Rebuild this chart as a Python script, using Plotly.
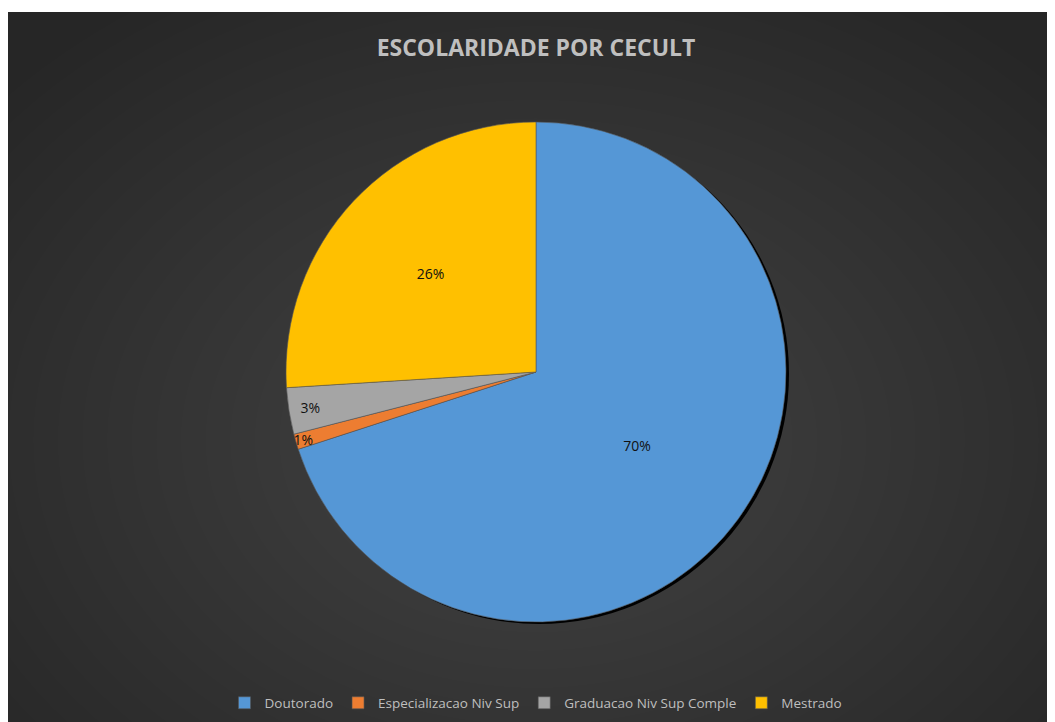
import plotly.graph_objects as go

labels = ["Doutorado", "Especializacao Niv Sup", "Graduacao Niv Sup Comple", "Mestrado"]
values = [70, 1, 3, 26]
colors = ["#5597d6", "#ed7d31", "#a5a5a5", "#ffc000"]

# the page body has an 8px margin; the figure fills the rest of the window
OFF = 8
W, H = 1055 - OFF, 722 - OFF

def px(x):
    return (x - OFF) / W

def py(y):
    return 1 - (y - OFF) / H

shapes = [
    dict(type="rect", xref="paper", yref="paper", x0=0.0, x1=1.0, y0=0.0, y1=py(12),
         fillcolor="#262626", line=dict(width=0), layer="below")
]
cx, cy = 536, 440
N = 26
for k in range(N):
    f = 1 - k / N
    rx, ry = 640 * f + 60, 480 * f + 45
    shapes.append(dict(type="circle", xref="paper", yref="paper",
                       x0=px(cx - rx), x1=px(cx + rx),
                       y0=py(cy + ry), y1=py(cy - ry),
                       fillcolor="rgba(255,255,255,0.0068)", line=dict(width=0), layer="below"))

R = 250
pcx, pcy = 536, 372
dom = dict(x=[px(pcx - R), px(pcx + R)], y=[py(pcy + R), py(pcy - R)])
shadow_dom = dict(x=[px(pcx - R + 3), px(pcx + R + 3)], y=[py(pcy + R + 2), py(pcy - R + 2)])

fig = go.Figure()
fig.add_trace(go.Pie(
    labels=["sombra"], values=[1], showlegend=False, textinfo="none", hoverinfo="skip",
    marker=dict(colors=["#000000"], line=dict(width=0)), domain=shadow_dom, sort=False
))
fig.add_trace(go.Pie(
    labels=labels, values=values, sort=False, direction="clockwise", rotation=0,
    marker=dict(colors=colors, line=dict(color="#555555", width=0.6)),
    textinfo="percent", textposition="inside", insidetextorientation="horizontal",
    textfont=dict(color="#111111", size=14, family="Open Sans, sans-serif"),
    domain=dom, hoverinfo="label+percent"
))

fig.update_layout(
    width=W, height=H,
    margin=dict(l=0, r=0, t=0, b=0),
    paper_bgcolor="#ffffff",
    plot_bgcolor="rgba(0,0,0,0)",
    shapes=shapes,
    uniformtext=dict(minsize=13, mode="show"),
    title=dict(text="<b>ESCOLARIDADE POR CECULT</b>", x=px(536), xanchor="center",
               y=py(48), yanchor="middle",
               font=dict(size=23, color="#bfbfbf", family="Open Sans, sans-serif")),
    legend=dict(orientation="h", x=px(536), xanchor="center", y=py(703), yanchor="middle",
                font=dict(size=13.5, color="#bfbfbf", family="Open Sans, sans-serif"),
                itemwidth=30, bgcolor="rgba(0,0,0,0)", traceorder="normal"),
    showlegend=True,
)

fig.write_html("out.html")
